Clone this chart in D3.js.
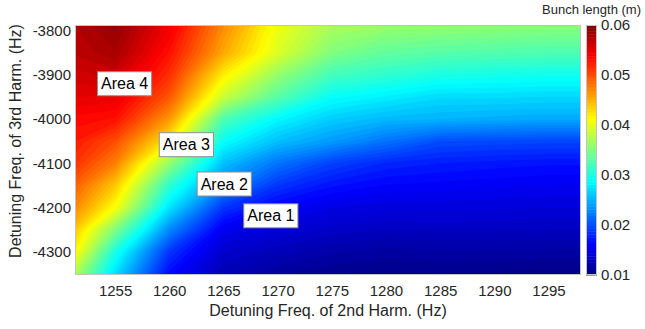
<!DOCTYPE html>
<html>
<head>
<meta charset="utf-8">
<script src="https://cdn.jsdelivr.net/npm/d3@7"></script>
<style>
body { margin: 0; background: #fff; }
text { font-family: "Liberation Sans", Arial, sans-serif; fill: #262626; }
</style>
</head>
<body>
<div id="chart"></div>
<script>
// Grid of detuning frequencies (Hz)
var freq2nd = [1251.3, 1255, 1260, 1265, 1270, 1275, 1280, 1285, 1290, 1295, 1298];
var freq3rd = [-3787, -3850, -3900, -3950, -4000, -4050, -4100, -4150, -4200, -4250, -4300, -4353];

// Bunch length (m), one row per freq3rd value (top to bottom), one column per freq2nd value
var row3787 = [0.0575, 0.059, 0.0545, 0.047, 0.0405, 0.037, 0.0362, 0.036, 0.0358, 0.0355, 0.0355];
var row3850 = [0.057, 0.058, 0.053, 0.0455, 0.0395, 0.035, 0.0335, 0.033, 0.0327, 0.0325, 0.0325];
var row3900 = [0.056, 0.0565, 0.0515, 0.042, 0.036, 0.032, 0.031, 0.030, 0.0297, 0.0295, 0.0295];
var row3950 = [0.055, 0.0548, 0.0495, 0.0385, 0.033, 0.029, 0.028, 0.027, 0.027, 0.0268, 0.0268];
var row4000 = [0.0535, 0.053, 0.0463, 0.0325, 0.0285, 0.0263, 0.0253, 0.025, 0.0247, 0.0245, 0.0245];
var row4050 = [0.0525, 0.050, 0.042, 0.029, 0.0256, 0.0238, 0.0219, 0.020, 0.0198, 0.0196, 0.0196];
var row4100 = [0.0513, 0.0475, 0.036, 0.0256, 0.0219, 0.0194, 0.018, 0.0175, 0.0172, 0.017, 0.017];
var row4150 = [0.049, 0.044, 0.031, 0.023, 0.0188, 0.017, 0.0162, 0.016, 0.0158, 0.0156, 0.0156];
var row4200 = [0.047, 0.041, 0.0275, 0.0188, 0.016, 0.015, 0.0146, 0.0146, 0.0145, 0.0144, 0.0144];
var row4250 = [0.044, 0.035, 0.023, 0.0155, 0.0143, 0.0135, 0.0131, 0.0132, 0.0132, 0.0131, 0.0131];
var row4300 = [0.0415, 0.030, 0.0188, 0.0137, 0.0128, 0.012, 0.0116, 0.0118, 0.0118, 0.0117, 0.0117];
var row4353 = [0.037, 0.027, 0.0165, 0.0125, 0.0113, 0.0106, 0.0104, 0.0105, 0.0104, 0.0103, 0.0103];
var bunchLength = [row3787, row3850, row3900, row3950, row4000, row4050,
                   row4100, row4150, row4200, row4250, row4300, row4353];

// Tick labels
var xTicks = [1255, 1260, 1265, 1270, 1275, 1280, 1285, 1290, 1295];
var yTicks = [-3800, -3900, -4000, -4100, -4200, -4300];
var cbTicks = [0.01, 0.02, 0.03, 0.04, 0.05, 0.06];

// Area annotations
var areaNames = ["Area 4", "Area 3", "Area 2", "Area 1"];
var areaX = [1253.7, 1259.4, 1262.9, 1267.2];
var areaY = [-3920, -4058, -4147, -4219];

var drawChart = function(){
	const width = 645;
	const height = 329;
	var left = 75, top = 25, right = 581, bottom = 275;
	var nLevels = 80;
	var step = 0.05 / nLevels;

	var svg = d3.select('#chart')
		.append('svg')
		.attr('width', width)
		.attr('height', height);

	var x = d3.scaleLinear().domain([1251.3, 1298]).range([left, right]);
	var y = d3.scaleLinear().domain([-4353, -3787]).range([bottom, top]);

	// jet colormap
	var jet = d3.scaleLinear()
		.domain([0.01, 0.01625, 0.02875, 0.04125, 0.05375, 0.06])
		.range(["#000080", "#0000ff", "#00ffff", "#ffff00", "#ff0000", "#800000"])
		.clamp(true);

	var levels = d3.range(nLevels).map(function(i){ return 0.01 + i * step; });

	// Filled contours
	var nx = freq2nd.length, ny = freq3rd.length;
	var values = d3.merge(bunchLength);
	var contours = d3.contours().size([nx, ny]).thresholds(levels)(values);

	var colIdx = d3.scaleLinear().domain(d3.range(nx)).range(freq2nd);
	var rowIdx = d3.scaleLinear().domain(d3.range(ny)).range(freq3rd);
	var proj = d3.geoTransform({
		point: function(px, py){ this.stream.point(x(colIdx(px - 0.5)), y(rowIdx(py - 0.5))); }
	});
	var path = d3.geoPath(proj);

	svg.append('clipPath').attr('id', 'plotclip')
		.append('rect')
		.attr('x', left).attr('y', top)
		.attr('width', right - left).attr('height', bottom - top);

	svg.append('g')
		.attr('clip-path', 'url(#plotclip)')
		.selectAll('path')
		.data(contours)
		.enter().append('path')
		.attr('d', path)
		.attr('fill', function(d){ return jet(d.value + step / 2); })
		.attr('stroke', function(d){ return jet(d.value + step / 2); })
		.attr('stroke-width', 0.3);

	// Plot box
	svg.append('rect')
		.attr('x', left + 0.5).attr('y', top + 0.5)
		.attr('width', right - left - 1).attr('height', bottom - top - 1)
		.attr('fill', 'none')
		.attr('stroke', '#c4c4c4');

	// Axes
	var xAxis = svg.append('g')
		.attr('transform', 'translate(0,' + bottom + ')')
		.call(d3.axisBottom(x).tickValues(xTicks).tickSize(0).tickPadding(10).tickFormat(String));
	var yAxis = svg.append('g')
		.attr('transform', 'translate(' + left + ',0)')
		.call(d3.axisLeft(y).tickValues(yTicks).tickSize(0).tickPadding(4).tickFormat(String));
	[xAxis, yAxis].forEach(function(a){
		a.select('.domain').remove();
		a.selectAll('text').attr('font-size', 15).attr('font-family', null).style('fill', '#262626');
	});

	svg.append('text')
		.attr('x', (left + right) / 2).attr('y', 316)
		.attr('text-anchor', 'middle')
		.attr('font-size', 16)
		.text('Detuning Freq. of 2nd Harm. (Hz)');

	svg.append('text')
		.attr('transform', 'translate(21,141) rotate(-90)')
		.attr('text-anchor', 'middle')
		.attr('font-size', 16)
		.text('Detuning Freq. of 3rd Harm. (Hz)');

	// Area labels
	var labels = svg.append('g').selectAll('g')
		.data(areaNames)
		.enter().append('g')
		.attr('transform', function(d, i){ return 'translate(' + x(areaX[i]) + ',' + y(areaY[i]) + ')'; });
	labels.append('rect')
		.attr('fill', 'white')
		.attr('stroke', '#8f8f8f');
	labels.append('text')
		.attr('font-size', 16)
		.attr('dy', '0.35em')
		.style('fill', '#000')
		.text(function(d){ return d; });
	labels.each(function(){
		var g = d3.select(this);
		var w = g.select('text').node().getComputedTextLength();
		g.select('rect')
			.attr('x', -3.5).attr('y', -12)
			.attr('width', w + 7).attr('height', 24);
	});

	// Colorbar
	var cbX = 586, cbW = 11;
	var cb = d3.scaleLinear().domain([0.01, 0.06]).range([bottom, top]);
	svg.append('g').selectAll('rect')
		.data(levels)
		.enter().append('rect')
		.attr('x', cbX)
		.attr('width', cbW)
		.attr('y', function(d){ return cb(d + step); })
		.attr('height', function(d){ return cb(d) - cb(d + step) + 0.4; })
		.attr('fill', function(d){ return jet(d + step / 2); });
	svg.append('rect')
		.attr('x', cbX + 0.5).attr('y', top + 0.5)
		.attr('width', cbW - 1).attr('height', bottom - top - 1)
		.attr('fill', 'none')
		.attr('stroke', '#c4c4c4');

	var cbAxis = svg.append('g')
		.attr('transform', 'translate(' + (cbX + cbW) + ',0)')
		.call(d3.axisRight(cb).tickValues(cbTicks).tickSize(0).tickPadding(4).tickFormat(d3.format('.2f')));
	cbAxis.select('.domain').remove();
	cbAxis.selectAll('text').attr('font-size', 15).attr('font-family', null).style('fill', '#262626');

	svg.append('text')
		.attr('x', 641).attr('y', 14)
		.attr('text-anchor', 'end')
		.attr('font-size', 13)
		.text('Bunch length (m)');
}

drawChart();
</script>
</body>
</html>
